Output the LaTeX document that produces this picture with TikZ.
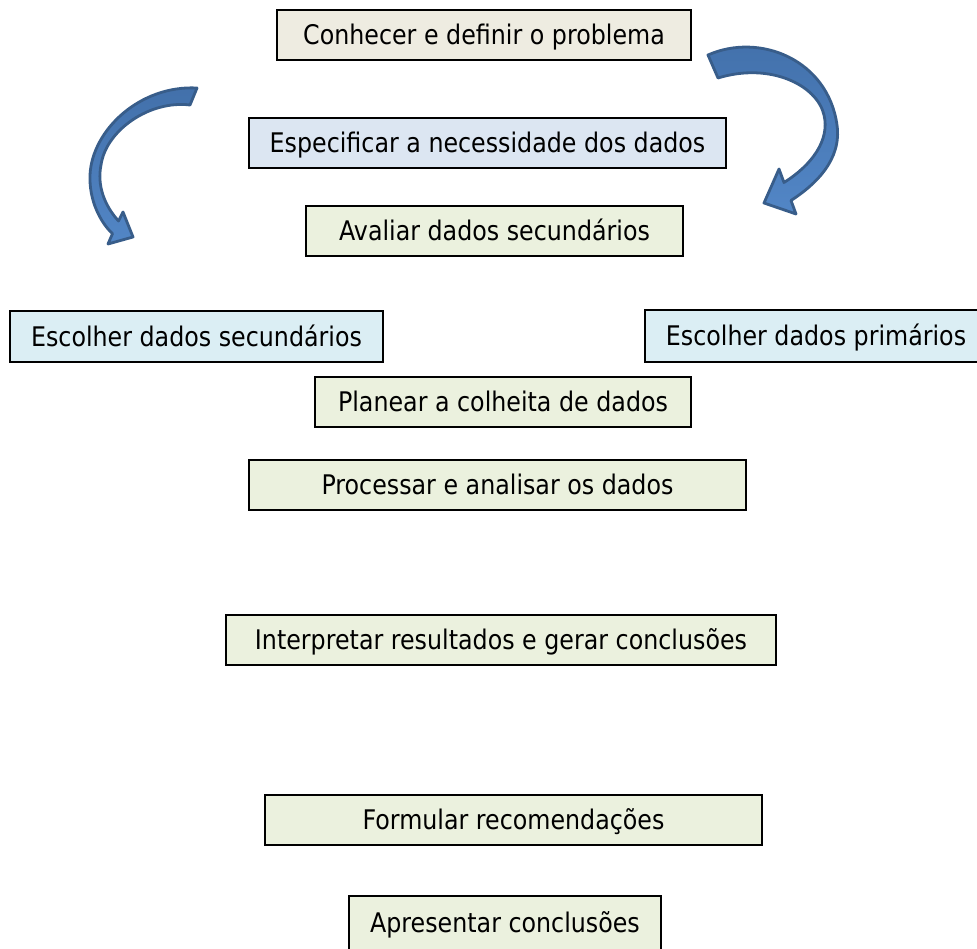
\documentclass[tikz,border=0pt]{standalone}
\usepackage{fontspec}
\setmainfont[FakeStretch=0.88]{DejaVu Sans}
\definecolor{boxtan}{RGB}{238,236,225}
\definecolor{boxblue}{RGB}{220,230,242}
\definecolor{boxgreen}{RGB}{235,241,222}
\definecolor{boxaqua}{RGB}{219,238,244}
\definecolor{arrowline}{RGB}{56,93,138}
\definecolor{arrowtop}{RGB}{66,112,170}
\definecolor{arrowbottom}{RGB}{82,134,198}
\begin{document}
\begin{tikzpicture}[x=1pt,y=-1pt,
  stepbox/.style={draw=black, line width=1.6pt, inner sep=0pt,
    font=\fontsize{27}{30}\selectfont, text height=19.7pt, text depth=0pt},
  bentarrow/.style={draw=arrowline, line width=2.8pt, line join=round,
    top color=arrowtop, bottom color=arrowbottom}]
\clip (0,0) rectangle (977,949);
\useasboundingbox (0,0) rectangle (977,949);

% process steps
\node[stepbox, fill=boxtan,   minimum width=414, minimum height=50] (conhecer)  at (484,35)    {Conhecer e definir o problema};
\node[stepbox, fill=boxblue,  minimum width=477, minimum height=50] (especificar) at (487.5,143) {Especificar a necessidade dos dados};
\node[stepbox, fill=boxgreen, minimum width=377, minimum height=50] (avaliar)   at (494.5,231) {Avaliar dados secundários};
\node[stepbox, fill=boxaqua,  minimum width=373, minimum height=51] (secund)    at (196.5,336.5) {Escolher dados secundários};
\node[stepbox, fill=boxaqua,  minimum width=342, minimum height=52] (primar)    at (816,336)   {Escolher dados primários};
\node[stepbox, fill=boxgreen, minimum width=376, minimum height=50] (planear)   at (503,402)   {Planear a colheita de dados};
\node[stepbox, fill=boxgreen, minimum width=497, minimum height=50] (processar) at (497.5,485) {Processar e analisar os dados};
\node[stepbox, fill=boxgreen, minimum width=550, minimum height=50] (interpretar) at (501,640) {Interpretar resultados e gerar conclusões};
\node[stepbox, fill=boxgreen, minimum width=497, minimum height=50] (formular)  at (513.5,820) {Formular recomendações};
\node[stepbox, fill=boxgreen, minimum width=312, minimum height=54] (apresentar) at (505,923) {Apresentar conclusões};

% left curved block arrow: outer edge, head, inner edge back to the tail
\path[bentarrow]
  (197,88) .. controls (140,85) and (92,130) .. (90,175)
           .. controls (89,200) and (100,222) .. (112.5,233.7)
  -- (108,244) -- (133,237) -- (123,212) -- (118.5,221)
  .. controls (104,205) and (97,185) .. (101,165)
  .. controls (106,130) and (150,100) .. (190,105)
  -- cycle;

% right curved block arrow
\path[bentarrow]
  (708,55) .. controls (760,32) and (828,60) .. (837,125)
           .. controls (842,160) and (815,185) .. (791,200.5)
  -- (796,214) -- (764,203) -- (779,169) -- (784,182.5)
  .. controls (812,165) and (830,140) .. (824,115)
  .. controls (817,85) and (770,62) .. (718,78)
  -- cycle;
\end{tikzpicture}
\end{document}
